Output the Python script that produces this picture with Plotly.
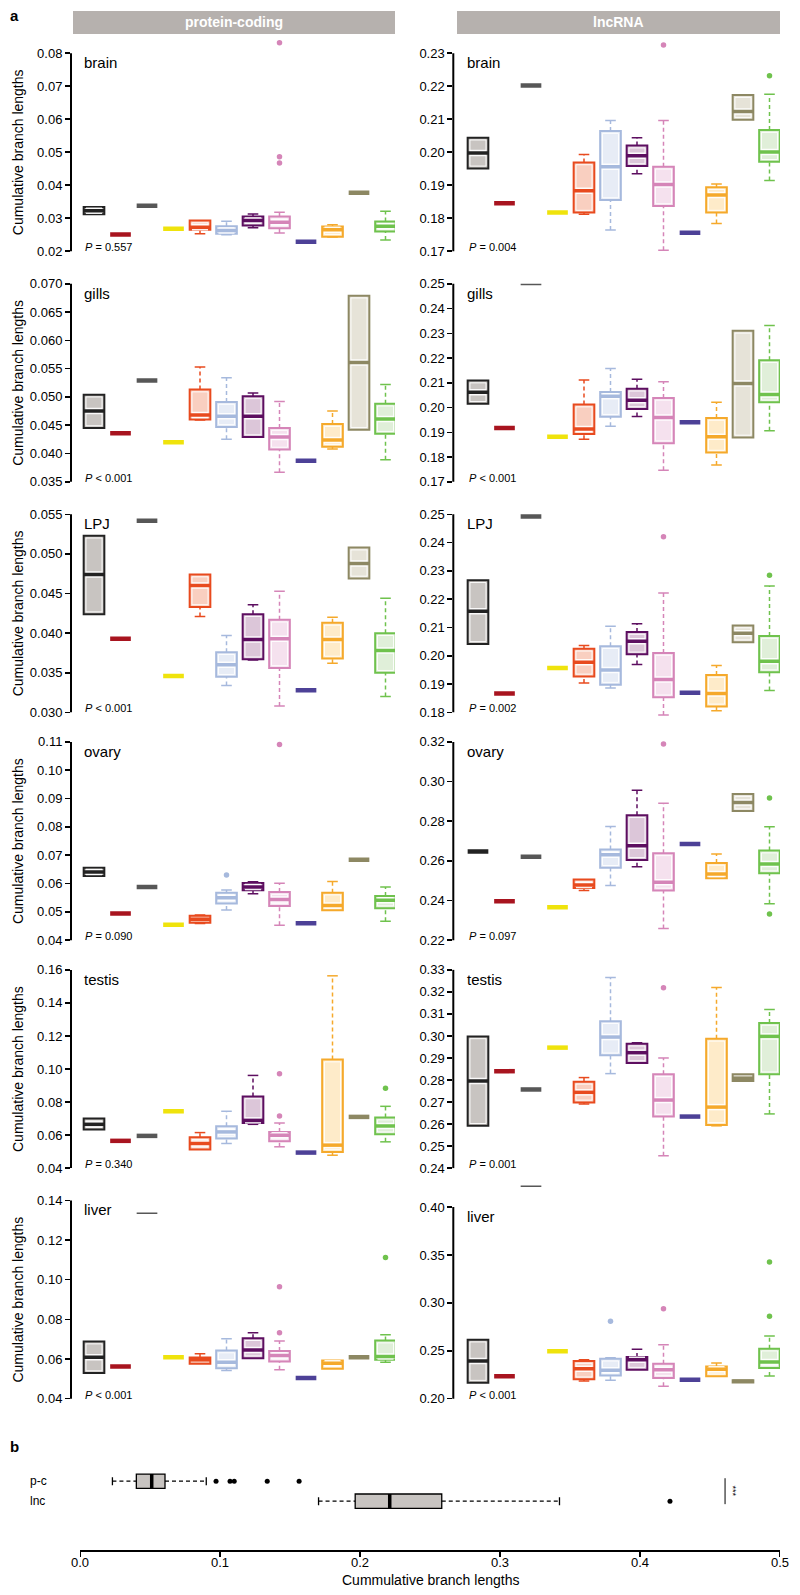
import plotly.graph_objects as go

W, H = 800, 1595
FONT = "Liberation Sans, Arial, Helvetica, sans-serif"

# ---------------- data ----------------
GROUPS = ["sp01", "sp02", "sp03", "sp04", "sp05", "sp06",
          "sp07", "sp08", "sp09", "sp10", "sp11", "sp12"]
BORDER = ["#222222", "#a8141f", "#575757", "#efe30c", "#e84a1e", "#a6b9dd",
          "#5d0e60", "#d585b8", "#4d4197", "#f5a92b", "#8d8863", "#6fc24d"]
FILL = ["#c8c4c1", "#e8c4c6", "#d8d8d8", "#faf6c4", "#f9cfc0", "#e7ecf6",
        "#dcc6d9", "#f5e1ee", "#d6d3ea", "#feebc9", "#e6e3d8", "#e0efd9"]

TISSUES = ["brain", "gills", "LPJ", "ovary", "testis", "liver"]

# each entry: (lower whisker, Q1, median, Q3, upper whisker) or a single value
brain_pc = [(0.0312, 0.0312, 0.0323, 0.0334, 0.0334), 0.0251, 0.0338, 0.0268,
            (0.0253, 0.0265, 0.0273, 0.0293, 0.0293), (0.0250, 0.0253, 0.0263, 0.0276, 0.0291),
            (0.0271, 0.0278, 0.0293, 0.0305, 0.0313), (0.0255, 0.0270, 0.0288, 0.0305, 0.0318),
            0.0229, (0.0243, 0.0244, 0.0265, 0.0275, 0.0280), 0.0377,
            (0.0234, 0.0260, 0.0276, 0.0290, 0.0321)]
brain_pc_out = {7: [0.0832, 0.0486, 0.0467]}

gills_pc = [(0.0445, 0.0445, 0.0475, 0.0504, 0.0504), 0.0436, 0.0529, 0.0420,
            (0.0459, 0.0460, 0.0468, 0.0513, 0.0553), (0.0425, 0.0447, 0.0466, 0.0491, 0.0534),
            (0.0429, 0.0429, 0.0466, 0.0501, 0.0507), (0.0367, 0.0407, 0.0429, 0.0445, 0.0492),
            0.0387, (0.0408, 0.0412, 0.0424, 0.0452, 0.0475),
            (0.0442, 0.0442, 0.0561, 0.0679, 0.0679), (0.0389, 0.0435, 0.0461, 0.0488, 0.0522)]
gills_pc_out = {}

LPJ_pc = [(0.0424, 0.0424, 0.0474, 0.0523, 0.0523), 0.0393, 0.0542, 0.0346,
          (0.0421, 0.0433, 0.0460, 0.0474, 0.0474), (0.0334, 0.0345, 0.0360, 0.0376, 0.0397),
          (0.0366, 0.0367, 0.0392, 0.0424, 0.0436), (0.0308, 0.0356, 0.0393, 0.0417, 0.0453),
          0.0328, (0.0362, 0.0368, 0.0392, 0.0413, 0.0420),
          (0.0469, 0.0469, 0.0488, 0.0508, 0.0508), (0.0320, 0.0350, 0.0378, 0.0400, 0.0444)]
LPJ_pc_out = {}

ovary_pc = [(0.0627, 0.0627, 0.0641, 0.0656, 0.0656), 0.0494, 0.0588, 0.0455,
            (0.0459, 0.0462, 0.0474, 0.0486, 0.0489), (0.0507, 0.0530, 0.0550, 0.0568, 0.0577),
            (0.0564, 0.0576, 0.0588, 0.0602, 0.0606), (0.0453, 0.0521, 0.0544, 0.0570, 0.0601),
            0.0460, (0.0506, 0.0506, 0.0523, 0.0568, 0.0607), 0.0684,
            (0.0467, 0.0513, 0.0541, 0.0556, 0.0588)]
ovary_pc_out = {5: [0.0630], 7: [0.1091]}

testis_pc = [(0.0633, 0.0633, 0.0665, 0.0700, 0.0700), 0.0565, 0.0595, 0.0744,
             (0.0513, 0.0513, 0.0549, 0.0587, 0.0615), (0.0549, 0.0579, 0.0619, 0.0653, 0.0744),
             (0.0665, 0.0673, 0.0689, 0.0834, 0.0961), (0.0529, 0.0563, 0.0599, 0.0619, 0.0673),
             0.0494, (0.0478, 0.0498, 0.0539, 0.1057, 0.1564), 0.0710,
             (0.0559, 0.0605, 0.0655, 0.0706, 0.0774)]
testis_pc_out = {7: [0.0971, 0.0716], 11: [0.0884]}

liver_pc = [(0.0529, 0.0529, 0.0609, 0.0688, 0.0688), 0.0562, 0.1336, 0.0609,
            (0.0576, 0.0576, 0.0596, 0.0608, 0.0626), (0.0542, 0.0554, 0.0584, 0.0643, 0.0702),
            (0.0604, 0.0604, 0.0646, 0.0705, 0.0733), (0.0546, 0.0588, 0.0618, 0.0641, 0.0691),
            0.0504, (0.0551, 0.0551, 0.0579, 0.0593, 0.0593), 0.0609,
            (0.0584, 0.0596, 0.0613, 0.0693, 0.0722)]
liver_pc_out = {7: [0.0964, 0.0733], 11: [0.1112]}

brain_lnc = [(0.1951, 0.1951, 0.1998, 0.2044, 0.2044), 0.1845, 0.2202, 0.1817,
             (0.1812, 0.1817, 0.1883, 0.1969, 0.1993), (0.1764, 0.1855, 0.1956, 0.2064, 0.2096),
             (0.1935, 0.1958, 0.1989, 0.2020, 0.2044), (0.1703, 0.1837, 0.1902, 0.1956, 0.2096),
             0.1756, (0.1784, 0.1817, 0.1870, 0.1894, 0.1904),
             (0.2098, 0.2098, 0.2123, 0.2173, 0.2173), (0.1914, 0.1971, 0.2001, 0.2067, 0.2176)]
brain_lnc_out = {7: [0.2325], 11: [0.2232]}

gills_lnc = [(0.2015, 0.2015, 0.2062, 0.2109, 0.2109), 0.1917, 0.2497, 0.1882,
             (0.1872, 0.1893, 0.1913, 0.2012, 0.2111), (0.1924, 0.1963, 0.2046, 0.2063, 0.2158),
             (0.1964, 0.1994, 0.2029, 0.2076, 0.2114), (0.1747, 0.1856, 0.1960, 0.2039, 0.2104),
             0.1941, (0.1768, 0.1818, 0.1882, 0.1958, 0.2021),
             (0.1879, 0.1879, 0.2097, 0.2310, 0.2310), (0.1906, 0.2021, 0.2053, 0.2191, 0.2331)]
gills_lnc_out = {}

LPJ_lnc = [(0.2042, 0.2042, 0.2157, 0.2267, 0.2267), 0.1867, 0.2492, 0.1957,
           (0.1904, 0.1927, 0.1977, 0.2025, 0.2036), (0.1886, 0.1898, 0.1950, 0.2034, 0.2104),
           (0.1969, 0.2005, 0.2051, 0.2084, 0.2113), (0.1791, 0.1853, 0.1916, 0.2010, 0.2222),
           0.1869, (0.1806, 0.1821, 0.1867, 0.1932, 0.1966),
           (0.2048, 0.2048, 0.2080, 0.2107, 0.2107), (0.1877, 0.1942, 0.1981, 0.2070, 0.2247)]
LPJ_lnc_out = {7: [0.2421], 11: [0.2285]}

ovary_lnc = [0.2648, 0.2397, 0.2621, 0.2366,
             (0.2451, 0.2463, 0.2479, 0.2506, 0.2506), (0.2476, 0.2565, 0.2631, 0.2657, 0.2774),
             (0.2571, 0.2605, 0.2677, 0.2830, 0.2956), (0.2259, 0.2451, 0.2493, 0.2638, 0.2891),
             0.2685, (0.2513, 0.2513, 0.2534, 0.2590, 0.2635),
             (0.2851, 0.2851, 0.2894, 0.2937, 0.2937), (0.2384, 0.2538, 0.2585, 0.2652, 0.2772)]
ovary_lnc_out = {7: [0.3190], 11: [0.2917, 0.2332]}

testis_lnc = [(0.2592, 0.2592, 0.2795, 0.2998, 0.2998), 0.2840, 0.2757, 0.2947,
              (0.2691, 0.2698, 0.2744, 0.2792, 0.2811), (0.2829, 0.2912, 0.2995, 0.3067, 0.3265),
              (0.2877, 0.2877, 0.2924, 0.2965, 0.2969), (0.2456, 0.2634, 0.2709, 0.2826, 0.2900),
              0.2634, (0.2592, 0.2596, 0.2677, 0.2987, 0.3220),
              (0.2796, 0.2796, 0.2808, 0.2826, 0.2826), (0.2646, 0.2826, 0.2998, 0.3059, 0.3120)]
testis_lnc_out = {7: [0.3219]}

liver_lnc = [(0.2167, 0.2167, 0.2393, 0.2616, 0.2616), 0.2233, 0.4216, 0.2494,
             (0.2184, 0.2202, 0.2313, 0.2393, 0.2407), (0.2191, 0.2243, 0.2296, 0.2417, 0.2428),
             (0.2303, 0.2303, 0.2407, 0.2435, 0.2515), (0.2129, 0.2215, 0.2303, 0.2365, 0.2563),
             0.2198, (0.2233, 0.2233, 0.2306, 0.2337, 0.2372),
             (0.2170, 0.2170, 0.2181, 0.2192, 0.2192), (0.2236, 0.2320, 0.2383, 0.2522, 0.2654)]
liver_lnc_out = {5: [0.2807], 7: [0.2939], 11: [0.3426, 0.2859]}

# groups drawn as thin single lines (panel column, tissue, group index)
THIN = {("pc", "liver", 2), ("lnc", "gills", 2), ("lnc", "liver", 2)}

pc_ticks = [[0.02, 0.03, 0.04, 0.05, 0.06, 0.07, 0.08],
            [0.035, 0.040, 0.045, 0.050, 0.055, 0.060, 0.065, 0.070],
            [0.030, 0.035, 0.040, 0.045, 0.050, 0.055],
            [0.04, 0.05, 0.06, 0.07, 0.08, 0.09, 0.10, 0.11],
            [0.04, 0.06, 0.08, 0.10, 0.12, 0.14, 0.16],
            [0.04, 0.06, 0.08, 0.10, 0.12, 0.14]]
pc_dec = [2, 3, 3, 2, 2, 2]
lnc_ticks = [[0.17, 0.18, 0.19, 0.20, 0.21, 0.22, 0.23],
             [0.17, 0.18, 0.19, 0.20, 0.21, 0.22, 0.23, 0.24, 0.25],
             [0.18, 0.19, 0.20, 0.21, 0.22, 0.23, 0.24, 0.25],
             [0.22, 0.24, 0.26, 0.28, 0.30, 0.32],
             [0.24, 0.25, 0.26, 0.27, 0.28, 0.29, 0.30, 0.31, 0.32, 0.33],
             [0.20, 0.25, 0.30, 0.35, 0.40]]
lnc_dec = [2, 2, 2, 2, 2, 2]
pc_p = ["= 0.557", "&lt; 0.001", "&lt; 0.001", "= 0.090", "= 0.340", "&lt; 0.001"]
lnc_p = ["= 0.004", "&lt; 0.001", "= 0.002", "= 0.097", "= 0.001", "&lt; 0.001"]

# panel b
b_labels = ["p-c", "lnc"]
b_stats = [(0.0229, 0.0400, 0.0510, 0.0605, 0.0900), (0.1703, 0.1965, 0.2212, 0.2584, 0.3426)]
b_out = [[0.0970, 0.1070, 0.1100, 0.1336, 0.1564], [0.4216]]
b_ticks = [0.0, 0.1, 0.2, 0.3, 0.4, 0.5]

# ---------------- layout helpers ----------------
SP = 26.5       # px between groups
BW = 0.78       # box width (group units)
CAP = 0.40
ROW_TOP = [52.3, 283.3, 514.3, 742.3, 970.7, 1201.7]
ROW_BOT = [250.7, 481.7, 712.7, 941.0, 1169.3, 1400.3]

COLS = [
    dict(key="pc", label="protein-coding", axis_px=71.0, c0=94.0, right_px=395.0, strip=(73, 395),
         data=[brain_pc, gills_pc, LPJ_pc, ovary_pc, testis_pc, liver_pc],
         outs=[brain_pc_out, gills_pc_out, LPJ_pc_out, ovary_pc_out, testis_pc_out, liver_pc_out],
         ticks=pc_ticks, dec=pc_dec, p=pc_p, lab_x=82, p_x=83),
    dict(key="lnc", label="lncRNA", axis_px=453.3, c0=478.0, right_px=780.0, strip=(457, 780),
         data=[brain_lnc, gills_lnc, LPJ_lnc, ovary_lnc, testis_lnc, liver_lnc],
         outs=[brain_lnc_out, gills_lnc_out, LPJ_lnc_out, ovary_lnc_out, testis_lnc_out, liver_lnc_out],
         ticks=lnc_ticks, dec=lnc_dec, p=lnc_p, lab_x=465, p_x=467),
]


def names(k):
    if k == 1:
        return "x", "y", "xaxis", "yaxis"
    return f"x{k}", f"y{k}", f"xaxis{k}", f"yaxis{k}"


def seg(xs, ys, color, width, xr, yr, dash="solid"):
    return go.Scatter(x=xs, y=ys, mode="lines", line=dict(color=color, width=width, dash=dash),
                      hoverinfo="skip", showlegend=False, xaxis=xr, yaxis=yr)


traces, shapes, annos, lay = [], [], [], {}

k = 0
for col in COLS:
    for r, tissue in enumerate(TISSUES):
        k += 1
        xr, yr, xa, ya = names(k)
        data, outs = col["data"][r], col["outs"][r]
        ticks, dec = col["ticks"][r], col["dec"][r]
        top_px, bot_px = ROW_TOP[r], ROW_BOT[r]
        if col["key"] == "lnc" and tissue == "liver":
            top_px = 1208.3
        tmin, tmax = min(ticks), max(ticks)
        ppu = (bot_px - top_px) / (tmax - tmin)
        vals = []
        for d in data:
            vals += list(d) if isinstance(d, tuple) else [d]
        for o in outs.values():
            vals += o
        padT = max(6.0, (max(vals) - tmax) * ppu + 5)
        padB = max(6.0, (tmin - min(vals)) * ppu + 5)
        lay[ya] = dict(domain=[1 - (bot_px + padB) / H, 1 - (top_px - padT) / H],
                       range=[tmin - padB / ppu, tmax + padT / ppu],
                       tickvals=ticks, ticktext=[f"{t:.{dec}f}" for t in ticks],
                       ticks="outside", ticklen=5, tickwidth=1.5, tickcolor="black",
                       showline=False, showgrid=False, zeroline=False,
                       tickfont=dict(size=13, family=FONT, color="black"), anchor=xr, fixedrange=True)
        lay[xa] = dict(domain=[col["axis_px"] / W, col["right_px"] / W],
                       range=[(col["axis_px"] - col["c0"]) / SP, (col["right_px"] - col["c0"]) / SP],
                       visible=False, anchor=yr, fixedrange=True)
        shapes.append(dict(type="line", xref=f"{xr} domain", yref=yr, x0=0, x1=0, y0=tmin, y1=tmax,
                           line=dict(color="black", width=2)))
        # labels
        annos.append(dict(text=tissue, x=col["lab_x"] / W, y=1 - (top_px + 9.5) / H, xref="paper", yref="paper",
                          xanchor="left", yanchor="middle", showarrow=False,
                          font=dict(size=15, family=FONT, color="black")))
        annos.append(dict(text=f"<i>P</i> {col['p'][r]}", x=col["p_x"] / W, y=1 - (bot_px - 4) / H,
                          xref="paper", yref="paper", xanchor="left", yanchor="middle", showarrow=False,
                          font=dict(size=11, family=FONT, color="black")))
        if col["key"] == "pc":
            annos.append(dict(text="Cumulative branch lengths", x=18 / W, y=1 - ((top_px + bot_px) / 2) / H,
                              xref="paper", yref="paper", textangle=-90, showarrow=False,
                              xanchor="center", yanchor="middle",
                              font=dict(size=14, family=FONT, color="black")))
        dx, dy = 2.3 / SP, 2.3 / ppu
        for i, d in enumerate(data):
            c = BORDER[i]
            if not isinstance(d, tuple):
                w = 1.5 if (col["key"], tissue, i) in THIN else 4.5
                traces.append(seg([i - BW / 2, i + BW / 2], [d, d], c, w, xr, yr))
            else:
                lo, q1, med, q3, hi = d
                if hi > q3:
                    traces.append(seg([i, i], [q3, hi], c, 1.5, xr, yr, dash="4px,3px"))
                    traces.append(seg([i - CAP / 2, i + CAP / 2], [hi, hi], c, 1.5, xr, yr))
                if lo < q1:
                    traces.append(seg([i, i], [lo, q1], c, 1.5, xr, yr, dash="4px,3px"))
                    traces.append(seg([i - CAP / 2, i + CAP / 2], [lo, lo], c, 1.5, xr, yr))
                traces.append(go.Box(x=[i], q1=[q1], median=[med], q3=[q3], lowerfence=[q1], upperfence=[q3],
                                     width=BW, fillcolor=FILL[i], line=dict(color=c, width=2),
                                     boxpoints=False, hoverinfo="skip", showlegend=False,
                                     orientation="v", xaxis=xr, yaxis=yr))
                if (q3 - q1) * ppu > 7:
                    xl, xh = i - BW / 2 + dx, i + BW / 2 - dx
                    traces.append(seg([xl, xh, xh, xl, xl], [q1 + dy, q1 + dy, q3 - dy, q3 - dy, q1 + dy],
                                      "rgba(255,255,255,0.9)", 1, xr, yr))
                    traces.append(seg([xl, xh], [med, med], "rgba(255,255,255,0.9)", 6.5, xr, yr))
                traces.append(seg([i - BW / 2, i + BW / 2], [med, med], c, 3.5, xr, yr))
            if i in outs:
                traces.append(go.Scatter(x=[i] * len(outs[i]), y=outs[i], mode="markers",
                                         marker=dict(color=c, size=5.5), hoverinfo="skip",
                                         showlegend=False, xaxis=xr, yaxis=yr))
    # strip
    s0, s1 = col["strip"]
    shapes.append(dict(type="rect", xref="paper", yref="paper", x0=s0 / W, x1=s1 / W,
                       y0=1 - 33 / H, y1=1 - 10 / H, fillcolor="#b6b1ae", line=dict(width=0), layer="below"))
    annos.append(dict(text=f"<b>{col['label']}</b>", x=(s0 + s1) / 2 / W, y=1 - 21.5 / H,
                      xref="paper", yref="paper", showarrow=False, xanchor="center", yanchor="middle",
                      font=dict(size=14, family=FONT, color="white")))

# ---------------- panel b ----------------
k = 13
xr, yr, xa, ya = names(k)
B_Y = [1, 0]
B_AXIS_PX = 1552
lay[xa] = dict(domain=[80.4 / W, 779.6 / W], range=[0, 0.5], anchor=yr, showline=True, linecolor="black",
               linewidth=1.5, ticks="outside", ticklen=5, tickwidth=1.5, tickcolor="black",
               tickvals=b_ticks, showticklabels=False, showgrid=False, zeroline=False, fixedrange=True)
lay[ya] = dict(domain=[1 - B_AXIS_PX / H, 1 - 1468 / H], range=[-2.45, 1.75], visible=False, anchor=xr,
               fixedrange=True)
for t in b_ticks:
    annos.append(dict(text=f"{t:.1f}", x=t, y=1 - (B_AXIS_PX + 12) / H, xref=xr, yref="paper",
                      xanchor="center", yanchor="middle", showarrow=False,
                      font=dict(size=13, family=FONT, color="black")))
BH = 0.72
for j, (st, yv) in enumerate(zip(b_stats, B_Y)):
    lo, q1, med, q3, hi = st
    traces.append(seg([q3, hi], [yv, yv], "black", 1.3, xr, yr, dash="4px,3px"))
    traces.append(seg([lo, q1], [yv, yv], "black", 1.3, xr, yr, dash="4px,3px"))
    traces.append(seg([hi, hi], [yv - 0.2, yv + 0.2], "black", 1.3, xr, yr))
    traces.append(seg([lo, lo], [yv - 0.2, yv + 0.2], "black", 1.3, xr, yr))
    traces.append(go.Box(y=[yv], q1=[q1], median=[med], q3=[q3], lowerfence=[q1], upperfence=[q3],
                         width=BH, orientation="h", fillcolor="#c8c4c1", line=dict(color="black", width=1.3),
                         boxpoints=False, hoverinfo="skip", showlegend=False, xaxis=xr, yaxis=yr))
    traces.append(seg([med, med], [yv - BH / 2, yv + BH / 2], "black", 3.5, xr, yr))
    traces.append(go.Scatter(x=b_out[j], y=[yv] * len(b_out[j]), mode="markers",
                             marker=dict(color="black", size=5), hoverinfo="skip", showlegend=False,
                             xaxis=xr, yaxis=yr))
    annos.append(dict(text=b_labels[j], x=28 / W, y=yv, xref="paper", yref=yr, xanchor="left",
                      yanchor="middle", showarrow=False, font=dict(size=12, family=FONT, color="black")))
shapes.append(dict(type="line", xref=xr, yref=yr, x0=0.461, x1=0.461, y0=1.15, y1=-0.15,
                   line=dict(color="black", width=1)))
annos.append(dict(text="***", x=0.4665, y=0.5, xref=xr, yref=yr, textangle=90, showarrow=False,
                  xanchor="center", yanchor="middle", font=dict(size=9, family=FONT, color="black")))
annos.append(dict(text="Cummulative branch lengths", x=(80.4 + 779.6) / 2 / W, y=1 - 1582 / H,
                  xref="paper", yref="paper", showarrow=False, xanchor="center", yanchor="middle",
                  font=dict(size=14, family=FONT, color="black")))

# panel letters
annos.append(dict(text="<b>a</b>", x=8 / W, y=1 - 15 / H, xref="paper", yref="paper", showarrow=False,
                  xanchor="left", yanchor="middle", font=dict(size=15, family=FONT, color="black")))
annos.append(dict(text="<b>b</b>", x=8 / W, y=1 - 1448 / H, xref="paper", yref="paper", showarrow=False,
                  xanchor="left", yanchor="middle", font=dict(size=15, family=FONT, color="black")))

fig = go.Figure(traces)
fig.update_layout(width=W, height=H, margin=dict(l=0, r=0, t=0, b=0), paper_bgcolor="white",
                  plot_bgcolor="rgba(0,0,0,0)", showlegend=False, boxmode="overlay", hovermode=False,
                  shapes=shapes, annotations=annos, font=dict(family=FONT, color="black"), **lay)
fig.write_html("out.html", config={"displayModeBar": False, "staticPlot": True},
               post_script="document.body.style.margin='0px';document.body.style.padding='0px';")
